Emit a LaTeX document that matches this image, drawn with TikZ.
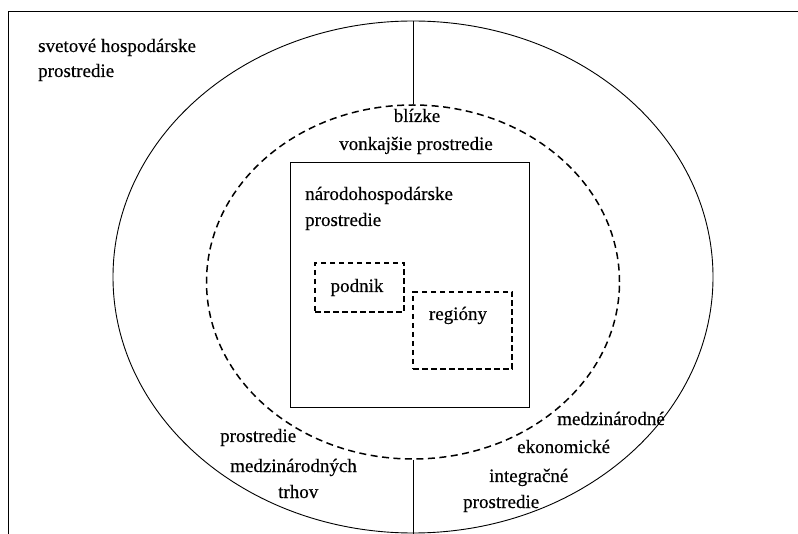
\documentclass[tikz,border=0pt]{standalone}
\usepackage{fontspec}
\setmainfont{Liberation Serif}
\newfontfamily\lblfont{Liberation Serif}[FakeBold=0.4]
\usetikzlibrary{positioning}
\usetikzlibrary{shapes.geometric}

\begin{document}
\begin{tikzpicture}
		[x=1pt,y=-1pt,
		 txt/.style={anchor=base west,inner sep=0pt,font=\lblfont\fontsize{19}{25}\selectfont},
		 ctxt/.style={txt,anchor=base},
		 ring/.style={shape=ellipse,draw,line width=0.9pt,inner sep=0pt},
		 dash ring/.style={ring,line width=1.5pt,dash pattern=on 7pt off 4.5pt},
		 dash box/.style={draw,line width=1.3pt,dash pattern=on 5.5pt off 3.5pt,inner sep=0pt}]
		\useasboundingbox (0,0) rectangle (798,534);
		
		% frame
		\coordinate (fbl) at (8,534);
		\coordinate (ftl) at (8,11);
		\coordinate (ftr) at (798,11);
		\draw[line width=0.9pt] (fbl) -- (ftl) -- (ftr);
		
		\node [ring,minimum width=600pt,minimum height=512pt] (world) at (413,277) {};
		\node [dash ring,minimum width=413pt,minimum height=354pt] (near) at (413,282) {};
		\node [draw,line width=0.9pt,minimum width=239pt,minimum height=245pt,inner sep=0pt] (nat) at (409.5,284.5) {};
		\node [dash box,minimum width=89pt,minimum height=49pt] (firm) at (359.5,287.5) {};
		\node [dash box,minimum width=99pt,minimum height=77pt] (reg) at (462.5,330.5) {};
		
		\coordinate (wbot) at (413,534);
		\draw[line width=0.9pt] (world.north) -- (near.north);
		\draw[line width=0.9pt] (near.south) -- (wbot);
		
		% labels
		\node [txt] (w1) at (38,52) {svetové hospodárske};
		\node [txt] (w2) at (38,77) {prostredie};
		
		\node [ctxt] (n1) at (417,122) {blízke};
		\node [ctxt] (n2) at (416,150) {vonkajšie prostredie};
		
		\node [txt] (h1) at (305,200) {národohospodárske};
		\node [txt] (h2) at (305,226) {prostredie};
		
		\node [ctxt] (p1) at (357,292) {podnik};
		\node [ctxt] (r1) at (458,320) {regióny};
		
		\node [txt] (m1) at (220,442) {prostredie};
		\node [txt] (m2) at (230,472) {medzinárodných};
		\node [txt] (m3) at (278,498) {trhov};
		
		\node [txt] (i1) at (557,425) {medzinárodné};
		\node [txt] (i2) at (517,453) {ekonomické};
		\node [txt] (i3) at (489,482) {integračné};
		\node [txt] (i4) at (463,508) {prostredie};
		
		\end{tikzpicture}
\end{document}
